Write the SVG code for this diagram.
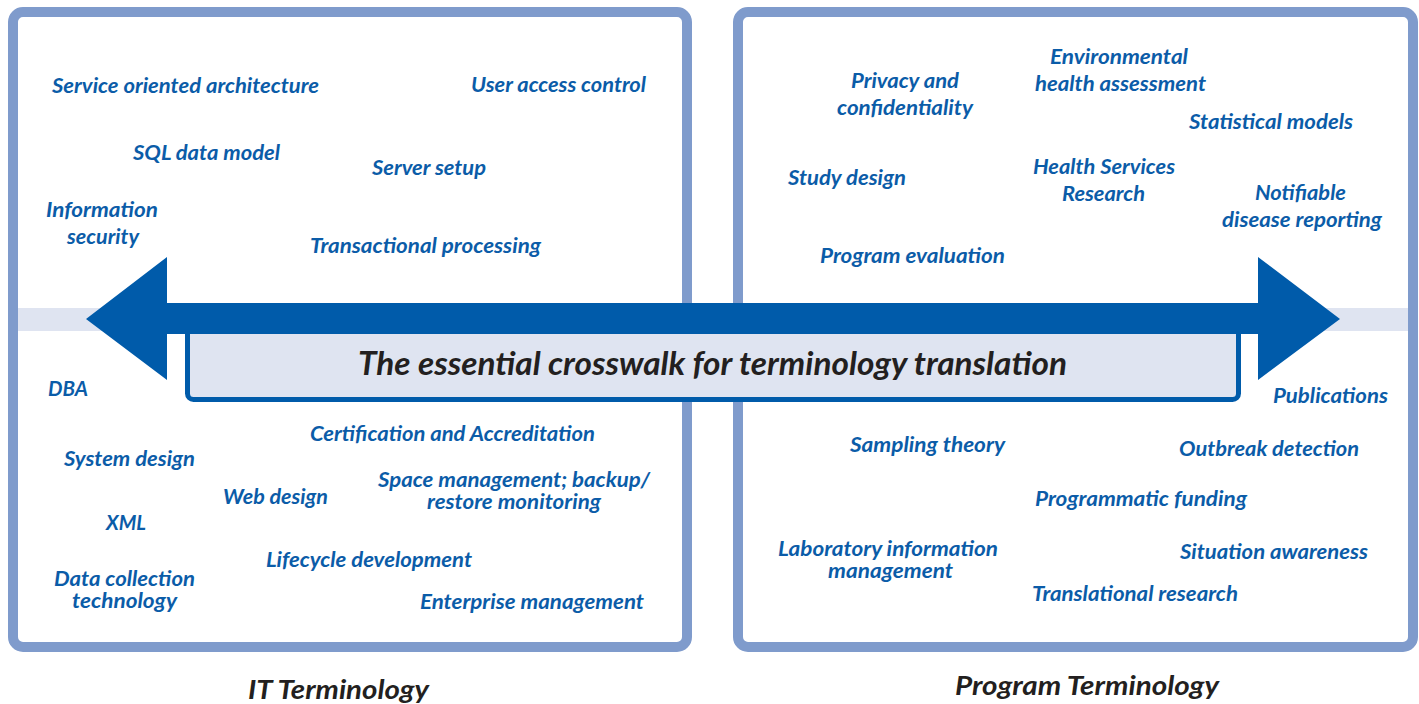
<svg xmlns="http://www.w3.org/2000/svg" width="1419" height="704" viewBox="0 0 1419 704">
<style>
.panel{fill:#ffffff;stroke:#7f9bcc;stroke-width:10}
.band{fill:#dfe4f1}
.t{font-family:"Lato","Liberation Sans",sans-serif;font-style:italic;font-weight:700;font-size:21px;fill:#0b5ca8}
.title{font-family:"Lato","Liberation Sans",sans-serif;font-style:italic;font-weight:700;font-size:33px;fill:#231f20}
.foot{font-family:"Lato","Liberation Sans",sans-serif;font-style:italic;font-weight:700;font-size:26px;fill:#231f20}
</style>
<rect width="1419" height="704" fill="#ffffff"/>
<g id="panel-it"><rect class="panel" x="13" y="12" width="674" height="635" rx="10"/></g>
<g id="panel-program"><rect class="panel" x="738" y="12" width="675" height="635" rx="10"/></g>
<rect class="band" x="18" y="308" width="1390" height="23"/>
<g id="crosswalk-label">
<rect x="187.5" y="320" width="1051" height="79.5" rx="6" fill="#dfe4f1" stroke="#005baa" stroke-width="5"/>
</g>
<g id="connectors">
<polygon fill="#005baa" points="86,319 167,257 167,303 1258,303 1258,257 1340,319 1258,380 1258,334 167,334 167,380"/>
</g>
<text class="title" x="358" y="375" textLength="709" lengthAdjust="spacingAndGlyphs">The essential crosswalk for terminology translation</text>

<g id="it-terms">
<g id="n-soa"><text class="t" x="52" y="93" textLength="267" lengthAdjust="spacingAndGlyphs">Service oriented architecture</text></g>
<g id="n-uac"><text class="t" x="471" y="92" textLength="175" lengthAdjust="spacingAndGlyphs">User access control</text></g>
<g id="n-sql"><text class="t" x="133" y="160" textLength="147" lengthAdjust="spacingAndGlyphs">SQL data model</text></g>
<g id="n-server"><text class="t" x="372" y="175" textLength="114" lengthAdjust="spacingAndGlyphs">Server setup</text></g>
<g id="n-infosec"><text class="t" x="46" y="217" textLength="112" lengthAdjust="spacingAndGlyphs">Information</text><text class="t" x="67" y="244" textLength="72" lengthAdjust="spacingAndGlyphs">security</text></g>
<g id="n-trans"><text class="t" x="310" y="253" textLength="231" lengthAdjust="spacingAndGlyphs">Transactional processing</text></g>
<g id="n-dba"><text class="t" x="48" y="396" textLength="40" lengthAdjust="spacingAndGlyphs">DBA</text></g>
<g id="n-cert"><text class="t" x="310" y="441" textLength="285" lengthAdjust="spacingAndGlyphs">Certification and Accreditation</text></g>
<g id="n-sysdesign"><text class="t" x="64" y="466" textLength="131" lengthAdjust="spacingAndGlyphs">System design</text></g>
<g id="n-space"><text class="t" x="378" y="487" textLength="272" lengthAdjust="spacingAndGlyphs">Space management; backup/</text><text class="t" x="427" y="509" textLength="174" lengthAdjust="spacingAndGlyphs">restore monitoring</text></g>
<g id="n-web"><text class="t" x="223" y="504" textLength="105" lengthAdjust="spacingAndGlyphs">Web design</text></g>
<g id="n-xml"><text class="t" x="106" y="530" textLength="40" lengthAdjust="spacingAndGlyphs">XML</text></g>
<g id="n-lifecycle"><text class="t" x="266" y="567" textLength="206" lengthAdjust="spacingAndGlyphs">Lifecycle development</text></g>
<g id="n-datacoll"><text class="t" x="54" y="586" textLength="141" lengthAdjust="spacingAndGlyphs">Data collection</text><text class="t" x="72" y="608" textLength="105" lengthAdjust="spacingAndGlyphs">technology</text></g>
<g id="n-enterprise"><text class="t" x="420" y="609" textLength="224" lengthAdjust="spacingAndGlyphs">Enterprise management</text></g>
</g>

<g id="program-terms">
<g id="n-privacy"><text class="t" x="851" y="88" textLength="108" lengthAdjust="spacingAndGlyphs">Privacy and</text><text class="t" x="837" y="115" textLength="136" lengthAdjust="spacingAndGlyphs">confidentiality</text></g>
<g id="n-env"><text class="t" x="1050" y="64" textLength="138" lengthAdjust="spacingAndGlyphs">Environmental</text><text class="t" x="1035" y="91" textLength="171" lengthAdjust="spacingAndGlyphs">health assessment</text></g>
<g id="n-stat"><text class="t" x="1189" y="129" textLength="164" lengthAdjust="spacingAndGlyphs">Statistical models</text></g>
<g id="n-study"><text class="t" x="788" y="185" textLength="118" lengthAdjust="spacingAndGlyphs">Study design</text></g>
<g id="n-hsr"><text class="t" x="1033" y="174" textLength="142" lengthAdjust="spacingAndGlyphs">Health Services</text><text class="t" x="1062" y="201" textLength="83" lengthAdjust="spacingAndGlyphs">Research</text></g>
<g id="n-notif"><text class="t" x="1255" y="200" textLength="91" lengthAdjust="spacingAndGlyphs">Notifiable</text><text class="t" x="1222" y="227" textLength="160" lengthAdjust="spacingAndGlyphs">disease reporting</text></g>
<g id="n-progeval"><text class="t" x="820" y="263" textLength="185" lengthAdjust="spacingAndGlyphs">Program evaluation</text></g>
<g id="n-pubs"><text class="t" x="1273" y="403" textLength="115" lengthAdjust="spacingAndGlyphs">Publications</text></g>
<g id="n-sampling"><text class="t" x="850" y="452" textLength="155" lengthAdjust="spacingAndGlyphs">Sampling theory</text></g>
<g id="n-outbreak"><text class="t" x="1179" y="456" textLength="180" lengthAdjust="spacingAndGlyphs">Outbreak detection</text></g>
<g id="n-funding"><text class="t" x="1035" y="506" textLength="212" lengthAdjust="spacingAndGlyphs">Programmatic funding</text></g>
<g id="n-lab"><text class="t" x="778" y="556" textLength="220" lengthAdjust="spacingAndGlyphs">Laboratory information</text><text class="t" x="828" y="578" textLength="125" lengthAdjust="spacingAndGlyphs">management</text></g>
<g id="n-situation"><text class="t" x="1180" y="559" textLength="188" lengthAdjust="spacingAndGlyphs">Situation awareness</text></g>
<g id="n-translational"><text class="t" x="1032" y="601" textLength="206" lengthAdjust="spacingAndGlyphs">Translational research</text></g>
</g>

<g id="label-it"><text class="foot" x="248" y="699" textLength="181" lengthAdjust="spacingAndGlyphs">IT Terminology</text></g>
<g id="label-program"><text class="foot" x="955" y="695" textLength="264" lengthAdjust="spacingAndGlyphs">Program Terminology</text></g>
</svg>
